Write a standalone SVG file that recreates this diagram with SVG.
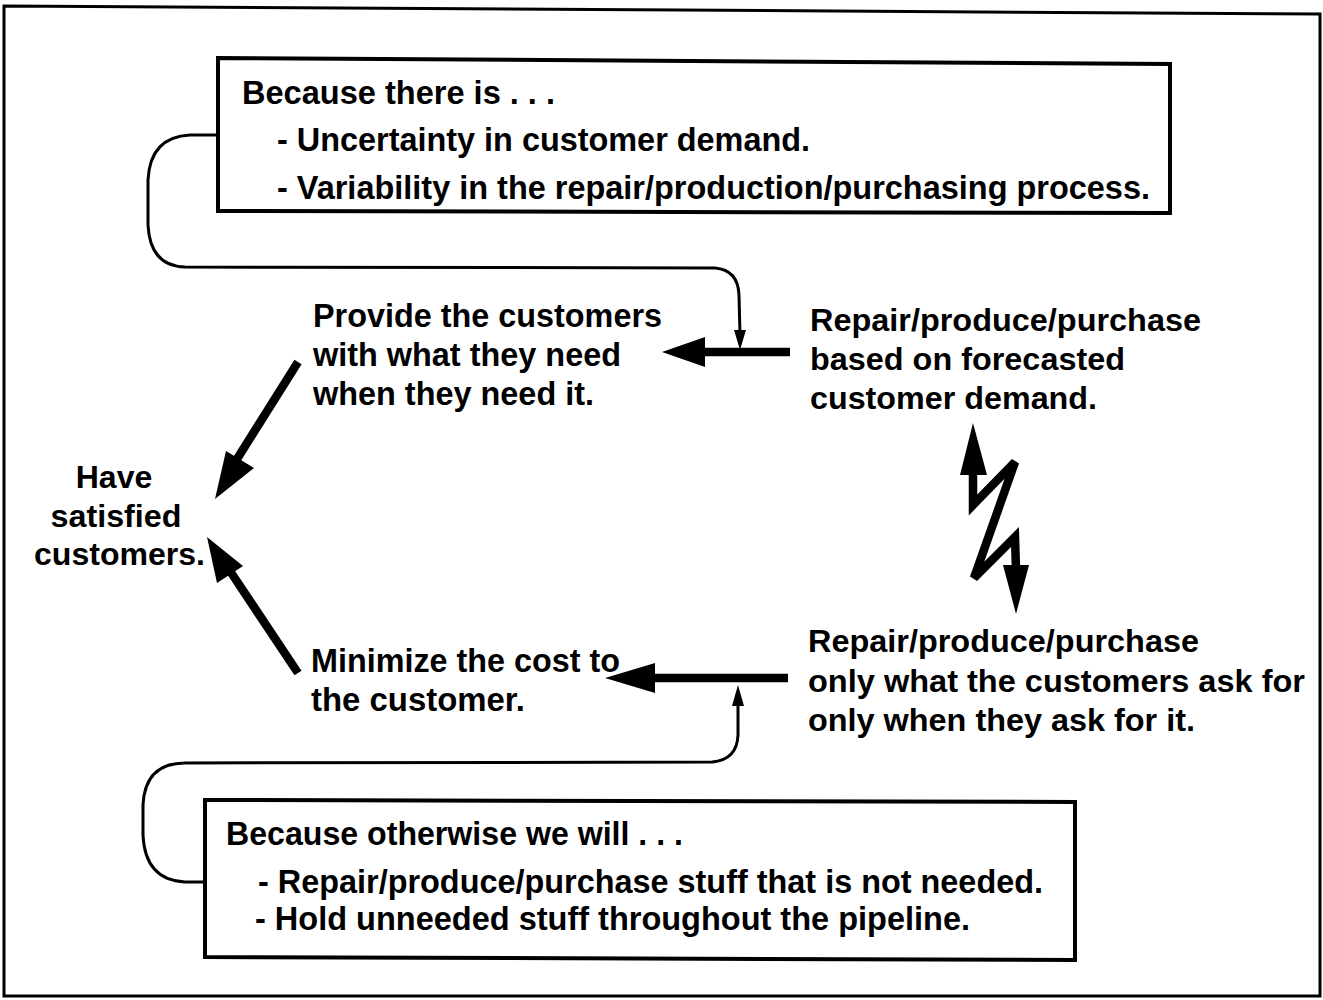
<svg xmlns="http://www.w3.org/2000/svg" width="1323" height="1000" viewBox="0 0 1323 1000">
<style>
text{font-family:"Liberation Sans",Arial,sans-serif;font-weight:bold;font-size:32px;fill:#000}
.n{font-size:33px}
.box{fill:#fff;stroke:#000;stroke-width:4}
.thin{fill:none;stroke:#000;stroke-width:3}
.thick{fill:none;stroke:#000;stroke-width:8.5}
.head{fill:#000;stroke:none}
</style>
<rect width="1323" height="1000" fill="#fff"/>
<polygon points="4,6 1320,14 1320,996 4,996" fill="none" stroke="#000" stroke-width="3"/>

<g id="connectors">
  <path class="thin" d="M218,135 L190,135 Q150,137 148,180 L148,225 Q150,266 185,267 L715,268 Q738,270 739,295 L740,335"/>
  <polygon class="head" points="734,330 746,330 740,350"/>
  <path class="thin" d="M205,882 L185,882 Q145,880 143,835 L143,805 Q145,763 185,763 L712,762 Q737,760 738,735 L738,703"/>
  <polygon class="head" points="732,706 744,706 738,685"/>
  <line class="thick" x1="790" y1="352" x2="700" y2="352"/>
  <polygon class="head" points="662,352 705,337 705,367"/>
  <line class="thick" x1="788" y1="678" x2="650" y2="678"/>
  <polygon class="head" points="605,678 655,663 655,693"/>
  <line class="thick" x1="298" y1="362" x2="232" y2="467"/>
  <polygon class="head" points="215,499 226,451 254,468"/>
  <line class="thick" x1="298" y1="673" x2="228" y2="568"/>
  <polygon class="head" points="207,537 217,583 243,566"/>
  <polyline class="thick" points="973,470 973,505 1015,462 974,578 1015,537 1016,570" stroke-linejoin="miter"/>
  <polygon class="head" points="973,423 960,475 987,475"/>
  <polygon class="head" points="1016,614 1003,565 1029,565"/>
</g>

<g id="top-box">
  <polygon class="box" points="218,58 1170,64 1170,213 218,211"/>
  <text class="n" x="242" y="104" textLength="313" lengthAdjust="spacingAndGlyphs">Because there is . . .</text>
  <text class="n" x="277" y="151" textLength="533" lengthAdjust="spacingAndGlyphs">- Uncertainty in customer demand.</text>
  <text class="n" x="277" y="199" textLength="873" lengthAdjust="spacingAndGlyphs">- Variability in the repair/production/purchasing process.</text>
</g>

<g id="provide">
  <text class="n" x="313" y="327" textLength="349" lengthAdjust="spacingAndGlyphs">Provide the customers</text>
  <text class="n" x="313" y="366" textLength="308" lengthAdjust="spacingAndGlyphs">with what they need</text>
  <text class="n" x="313" y="405" textLength="281" lengthAdjust="spacingAndGlyphs">when they need it.</text>
</g>

<g id="forecast">
  <text x="810" y="331" textLength="391" lengthAdjust="spacingAndGlyphs">Repair/produce/purchase</text>
  <text x="810" y="370" textLength="315" lengthAdjust="spacingAndGlyphs">based on forecasted</text>
  <text x="810" y="409" textLength="287" lengthAdjust="spacingAndGlyphs">customer demand.</text>
</g>

<g id="satisfied">
  <text x="114" y="488" text-anchor="middle">Have</text>
  <text x="116" y="527" text-anchor="middle" textLength="131" lengthAdjust="spacingAndGlyphs">satisfied</text>
  <text x="34" y="565" textLength="171" lengthAdjust="spacingAndGlyphs">customers.</text>
</g>

<g id="minimize">
  <text class="n" x="311" y="672" textLength="309" lengthAdjust="spacingAndGlyphs">Minimize the cost to</text>
  <text class="n" x="311" y="711" textLength="214" lengthAdjust="spacingAndGlyphs">the customer.</text>
</g>

<g id="only-ask">
  <text x="808" y="652" textLength="391" lengthAdjust="spacingAndGlyphs">Repair/produce/purchase</text>
  <text x="808" y="692" textLength="497" lengthAdjust="spacingAndGlyphs">only what the customers ask for</text>
  <text x="808" y="731" textLength="387" lengthAdjust="spacingAndGlyphs">only when they ask for it.</text>
</g>

<g id="bottom-box">
  <polygon class="box" points="205,800 1075,802 1075,960 205,957"/>
  <text class="n" x="226" y="845" textLength="457" lengthAdjust="spacingAndGlyphs">Because otherwise we will . . .</text>
  <text class="n" x="258" y="893" textLength="785" lengthAdjust="spacingAndGlyphs">- Repair/produce/purchase stuff that is not needed.</text>
  <text class="n" x="255" y="930" textLength="715" lengthAdjust="spacingAndGlyphs">- Hold unneeded stuff throughout the pipeline.</text>
</g>
</svg>
